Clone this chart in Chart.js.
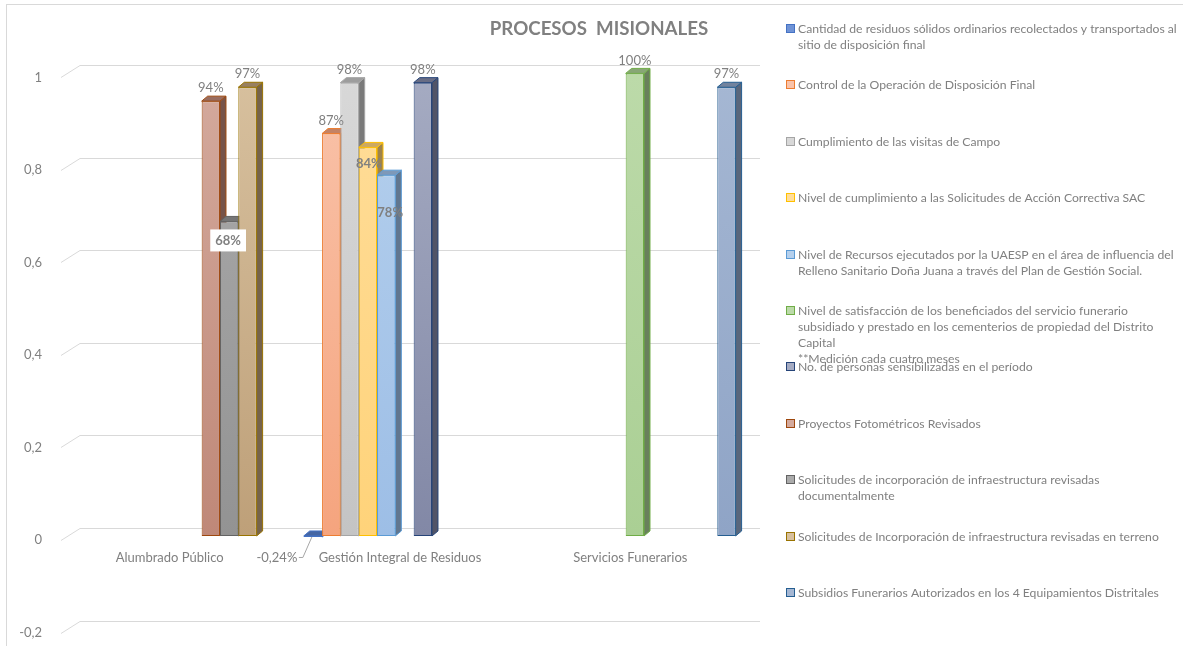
<!DOCTYPE html>
<html lang="es">
<head>
<meta charset="UTF-8">
<title>Procesos Misionales</title>
<script src="https://cdn.jsdelivr.net/npm/chart.js"></script>
<style>
  body { margin: 0; background: #fff; }
  #wrap { position: relative; width: 1183px; height: 646px; }
</style>
</head>
<body>
<div id="wrap"><canvas id="chart"></canvas></div>
<script>
// categories and series
const categories = ['Alumbrado Público', 'Gestión Integral de Residuos', 'Servicios Funerarios'];

const seriesNames = [
  ['Cantidad de residuos sólidos ordinarios recolectados y transportados al', 'sitio de disposición final'],
  ['Control de la Operación de Disposición Final'],
  ['Cumplimiento de las visitas de Campo'],
  ['Nivel de cumplimiento a las Solicitudes de Acción Correctiva SAC'],
  ['Nivel de Recursos ejecutados por la UAESP en el área de influencia del', 'Relleno Sanitario Doña Juana a través del Plan de Gestión Social.'],
  ['Nivel de satisfacción de los beneficiados del servicio funerario', 'subsidiado y prestado en los cementerios de propiedad del Distrito', 'Capital', '**Medición cada cuatro meses'],
  ['No. de personas sensibilizadas en el período'],
  ['Proyectos Fotométricos Revisados'],
  ['Solicitudes de incorporación de infraestructura revisadas', 'documentalmente'],
  ['Solicitudes de Incorporación de infraestructura revisadas en terreno'],
  ['Subsidios Funerarios Autorizados en los 4 Equipamientos Distritales']
];

const residuosRecolectados   = [null, -0.0024, null];
const controlDisposicion     = [null, 0.87, null];
const visitasCampo           = [null, 0.98, null];
const solicitudesSAC         = [null, 0.84, null];
const recursosUAESP          = [null, 0.78, null];
const satisfaccionFuneraria  = [null, null, 1.00];
const personasSensibilizadas = [null, 0.98, null];
const proyectosFotometricos  = [0.94, null, null];
const solicitudesDocumental  = [0.68, null, null];
const solicitudesTerreno     = [0.97, null, null];
const subsidiosFunerarios    = [null, null, 0.97];

const seriesValues = [
  residuosRecolectados, controlDisposicion, visitasCampo, solicitudesSAC, recursosUAESP,
  satisfaccionFuneraria, personasSensibilizadas, proyectosFotometricos,
  solicitudesDocumental, solicitudesTerreno, subsidiosFunerarios
];

const yMin = -0.2, yMax = 1, yStep = 0.2;

// colours: front gradient light->dark, edge colour
const palette = [
  { light: '#6f93d6', dark: '#5680cc', border: '#4472C4' },
  { light: '#F9C3AA', dark: '#F5A47E', border: '#ED7D31' },
  { light: '#D8D8D8', dark: '#C4C4C4', border: '#A5A5A5' },
  { light: '#FFDD9A', dark: '#FFD37A', border: '#FFC000' },
  { light: '#B5D0ED', dark: '#9DBEE6', border: '#5B9BD5' },
  { light: '#BCDAA9', dark: '#AACF94', border: '#70AD47' },
  { light: '#A5ABC2', dark: '#8288A6', border: '#264478' },
  { light: '#D4AA9D', dark: '#BF8878', border: '#9E480E' },
  { light: '#ABABAB', dark: '#939393', border: '#636363' },
  { light: '#D7C09E', dark: '#BEA079', border: '#997300' },
  { light: '#A5B7D3', dark: '#8FA4C6', border: '#255E91' }
];

// data label tweaks per series index
const labelStyles = {
  0: { dx: -36, dy: 22, fromBase: true, leader: true },
  3: { dx: 1, dy: 16, bold: true },
  4: { dx: 4, dy: 38, bold: true },
  8: { dx: -1, dy: 19, bold: true, box: true }
};

const FONT = 'Lato, "Liberation Sans", sans-serif';
const TEXT = '#808080';
const depthX = 6, depthY = 5;

function shade(hex, f) {
  const n = parseInt(hex.slice(1), 16);
  const r = Math.round(((n >> 16) & 255) * f);
  const g = Math.round(((n >> 8) & 255) * f);
  const b = Math.round((n & 255) * f);
  return `rgb(${r},${g},${b})`;
}

function fmtTick(v) {
  return String(Number(v.toFixed(1))).replace('.', ',');
}

function fmtPct(v) {
  if (Math.abs(v) < 0.01) return (v * 100).toFixed(2).replace('.', ',') + '%';
  return Math.round(v * 100) + '%';
}

function drawFaces(ctx, el, p) {
  const { x, y, base, width } = el.getProps(['x', 'y', 'base', 'width'], true);
  const l = x - width / 2, r = x + width / 2;
  const t = Math.min(y, base), b = Math.max(y, base);
  ctx.save();
  ctx.lineWidth = 1;
  ctx.strokeStyle = p.border;
  ctx.beginPath();
  ctx.moveTo(r, t); ctx.lineTo(r + depthX, t - depthY);
  ctx.lineTo(r + depthX, b - depthY); ctx.lineTo(r, b);
  ctx.closePath();
  ctx.fillStyle = shade(p.dark, 0.62);
  ctx.fill(); ctx.stroke();
  ctx.beginPath();
  ctx.moveTo(l, t); ctx.lineTo(l + depthX, t - depthY);
  ctx.lineTo(r + depthX, t - depthY); ctx.lineTo(r, t);
  ctx.closePath();
  ctx.fillStyle = shade(p.dark, 0.8);
  ctx.fill(); ctx.stroke();
  ctx.restore();
}

const misionales = {
  id: 'misionales',
  beforeDraw(chart) {
    const ctx = chart.ctx;
    ctx.save();
    ctx.strokeStyle = '#d9d9d9';
    ctx.lineWidth = 1;
    ctx.strokeRect(6.5, 4.5, 1200, 700);
    ctx.restore();
  },
  beforeDatasetsDraw(chart) {
    const { ctx, chartArea: a, scales: { y } } = chart;
    // 3D gridlines
    ctx.save();
    ctx.strokeStyle = '#d9d9d9';
    ctx.lineWidth = 1;
    y.ticks.forEach(t => {
      const yf = Math.round(y.getPixelForValue(t.value)) + 0.5;
      ctx.beginPath();
      ctx.moveTo(a.left + 2, yf + 4);
      ctx.lineTo(a.left + 21, yf - 8);
      ctx.lineTo(a.right + 10, yf - 8);
      ctx.stroke();
    });
    ctx.restore();
    // bars left to right, each with its side and top faces
    const bars = [];
    chart.getSortedVisibleDatasetMetas().forEach(meta => {
      meta.data.forEach((el, j) => {
        if (chart.data.datasets[meta.index].data[j] == null) return;
        bars.push({ el, ds: meta.index });
      });
    });
    bars.sort((p, q) => p.el.x - q.el.x);
    bars.forEach(({ el, ds }) => {
      drawFaces(ctx, el, palette[ds]);
      el.draw(ctx, a);
    });
    return false;
  },
  afterDraw(chart) {
    const { ctx, scales: { x, y } } = chart;
    const y0 = y.getPixelForValue(0);
    ctx.save();
    ctx.textBaseline = 'middle';

    // title
    ctx.fillStyle = '#808080';
    ctx.font = 'bold 18.7px ' + FONT;
    ctx.textAlign = 'center';
    ctx.fillText('PROCESOS  MISIONALES', 599, 29);

    // y tick labels
    ctx.font = '13px ' + FONT;
    ctx.fillStyle = TEXT;
    ctx.textAlign = 'right';
    y.ticks.forEach(t => {
      ctx.fillText(fmtTick(t.value), 42, y.getPixelForValue(t.value) + 4);
    });

    // category labels
    ctx.textAlign = 'center';
    categories.forEach((c, i) => {
      ctx.fillText(c, x.getPixelForValue(i) - 4.5, y0 + 22);
    });

    // data labels
    chart.data.datasets.forEach((ds, di) => {
      const meta = chart.getDatasetMeta(di);
      ds.data.forEach((v, j) => {
        if (v == null) return;
        const el = meta.data[j];
        const st = labelStyles[di];
        const top = Math.min(el.y, el.base);
        const txt = fmtPct(v);
        let lx = el.x, ly = top - 13;
        if (st) {
          lx = el.x + st.dx;
          ly = (st.fromBase ? el.base : top) + st.dy;
        }
        ctx.font = (st && st.bold ? 'bold ' : '') + '13px ' + FONT;
        if (st && st.box) {
          const w = ctx.measureText(txt).width + 10;
          ctx.fillStyle = '#ffffff';
          ctx.fillRect(lx - w / 2, ly - 11, w, 22);
        }
        if (st && st.leader) {
          ctx.strokeStyle = '#a6a6a6';
          ctx.lineWidth = 1;
          ctx.beginPath();
          ctx.moveTo(el.x - 14, el.base + 21.5);
          ctx.lineTo(el.x - 10, el.base + 21.5);
          ctx.lineTo(el.x - 1, el.base + 1);
          ctx.stroke();
        }
        ctx.fillStyle = TEXT;
        ctx.textAlign = 'center';
        ctx.fillText(txt, lx, ly);
      });
    });

    // legend
    ctx.font = '12.2px ' + FONT;
    ctx.textAlign = 'left';
    seriesNames.forEach((lines, i) => {
      const ly = 29 + i * 56.4;
      const p = palette[i];
      ctx.fillStyle = p.light;
      ctx.fillRect(786.5, Math.round(ly) - 4.5, 8, 8);
      ctx.strokeStyle = p.border;
      ctx.lineWidth = 1;
      ctx.strokeRect(786.5, Math.round(ly) - 4.5, 8, 8);
      ctx.fillStyle = TEXT;
      lines.forEach((line, k) => ctx.fillText(line, 798, ly + k * 16));
    });
    ctx.restore();
  }
};

const datasets = seriesValues.map((vals, i) => ({
  label: seriesNames[i].join(' '),
  data: vals,
  backgroundColor: c => {
    const p = palette[i];
    const ch = c.chart;
    if (!ch.chartArea) return p.light;
    const g = ch.ctx.createLinearGradient(0, ch.chartArea.top, 0, ch.scales.y.getPixelForValue(0));
    g.addColorStop(0, p.light);
    g.addColorStop(1, p.dark);
    return g;
  },
  borderColor: palette[i].border,
  borderWidth: 1,
  borderSkipped: false
}));

new Chart(document.getElementById('chart'), {
  type: 'bar',
  data: { labels: categories, datasets },
  options: {
    responsive: true,
    maintainAspectRatio: false,
    animation: false,
    layout: { padding: { left: 59, right: 433, top: 73.4, bottom: 17.5 } },
    categoryPercentage: 0.875,
    barPercentage: 1,
    plugins: {
      legend: { display: false },
      tooltip: { enabled: false }
    },
    scales: {
      x: { display: false },
      y: { display: false, min: yMin, max: yMax, ticks: { stepSize: yStep } }
    }
  },
  plugins: [misionales]
});
</script>
</body>
</html>
